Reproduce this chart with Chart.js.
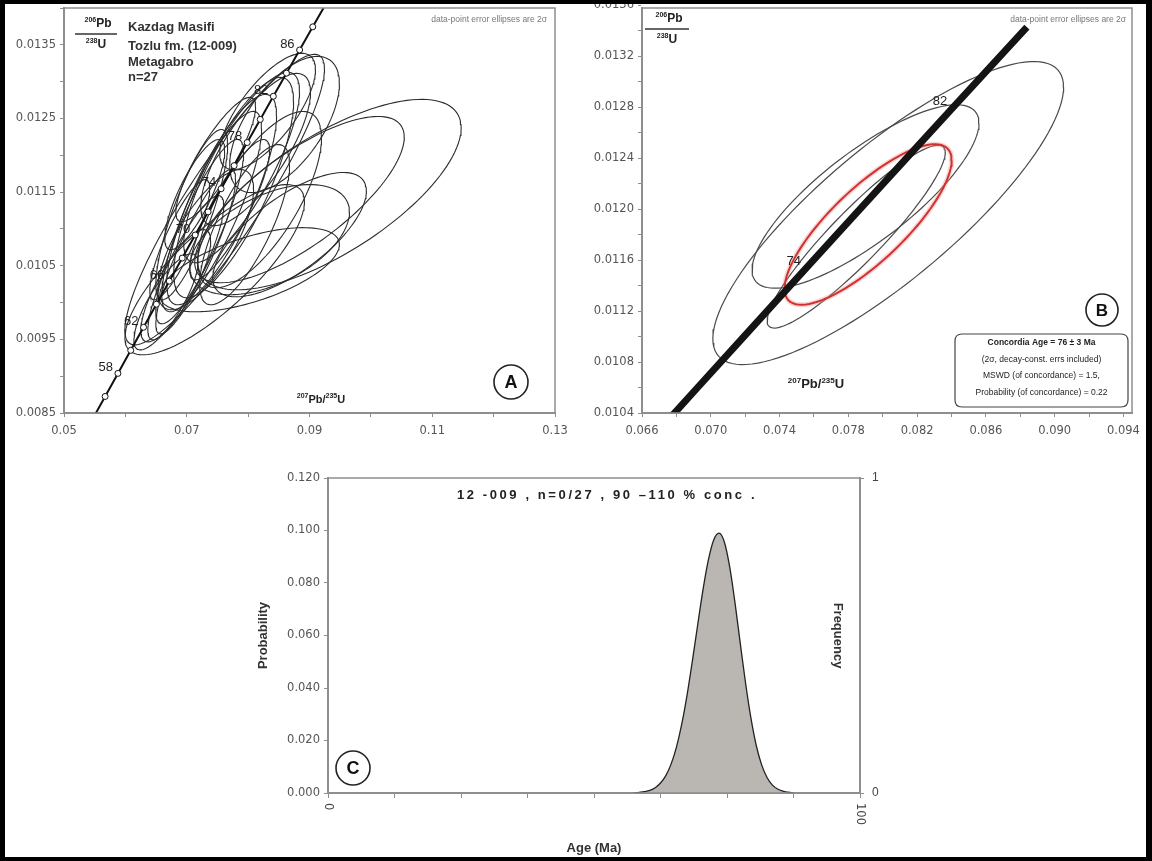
<!DOCTYPE html>
<html>
<head>
<meta charset="utf-8">
<script src="https://cdn.jsdelivr.net/npm/chart.js@4.4.1/dist/chart.umd.min.js"></script>
<style>
  html, body { margin: 0; padding: 0; background: #fff; }
  #page { position: relative; width: 1152px; height: 861px; overflow: hidden; background: #fff; }
  #page canvas { position: absolute; }
  #frame { position: absolute; left: 0; top: 0; width: 1152px; height: 861px; box-sizing: border-box;
           border-style: solid; border-color: #000; border-width: 4px 6px 4px 5px; pointer-events: none; }
</style>
</head>
<body>
<div id="page">
  <canvas id="cA" width="570" height="440" style="left:0px;top:0px;width:570px;height:440px"></canvas>
  <canvas id="cB" width="582" height="440" style="left:570px;top:0px;width:582px;height:440px"></canvas>
  <canvas id="cC" width="690" height="421" style="left:230px;top:440px;width:690px;height:421px"></canvas>
  <div id="frame"></div>
</div>
<script>
// ---- Concordia reference curve (age in Ma, 207Pb/235U, 206Pb/238U) ----
const concAge = [54, 56, 58, 60, 62, 64, 66, 68, 70, 72, 74, 76, 78, 80, 82, 84, 86, 88, 90];
const concR75 = [0.054621, 0.056700, 0.058784, 0.060871, 0.062963, 0.065058, 0.067158, 0.069262, 0.071370, 0.073483,
                 0.075600, 0.077721, 0.079846, 0.081975, 0.084108, 0.086246, 0.088387, 0.090533, 0.092683];
const concR68 = [0.0084119, 0.0087247, 0.0090377, 0.0093508, 0.0096640, 0.0099773, 0.0102907, 0.0106041, 0.0109177, 0.0112314,
                 0.0115452, 0.0118590, 0.0121730, 0.0124870, 0.0128012, 0.0131154, 0.0134298, 0.0137442, 0.0140588];
const concLabelsA = [58, 62, 66, 70, 74, 78, 82, 86];
const concLabelsB = [74, 82];

// ---- Panel A: zircon spots, 12-009 (2-sigma errors, error correlation) ----
const aR75   = [0.07211, 0.07407, 0.07146, 0.07569, 0.07764, 0.07309, 0.06984, 0.06821, 0.06659, 0.07894,
                0.08122, 0.08593, 0.09325, 0.08837, 0.08675, 0.08350, 0.08024, 0.08317, 0.07472, 0.07699,
                0.07081, 0.07618, 0.07455, 0.06886, 0.07943, 0.08187, 0.07130];
const aErr75 = [0.00715, 0.00813, 0.00650, 0.00894, 0.00976, 0.00780, 0.00618, 0.00569, 0.00520, 0.00943,
                0.00894, 0.00894, 0.02146, 0.01707, 0.01252, 0.01301, 0.01463, 0.00780, 0.00650, 0.00650,
                0.00585, 0.01626, 0.01463, 0.00488, 0.00732, 0.01008, 0.00488];
const aR68   = [0.010963, 0.011235, 0.010690, 0.011398, 0.011561, 0.010854, 0.010473, 0.010228, 0.010010, 0.011833,
                0.012078, 0.012418, 0.011466, 0.011398, 0.010922, 0.010854, 0.010446, 0.012595, 0.011942, 0.011262,
                0.011194, 0.011398, 0.010446, 0.010854, 0.011058, 0.011398, 0.011466];
const aErr68 = [0.001252, 0.001361, 0.001116, 0.001429, 0.001497, 0.000952, 0.000980, 0.000762, 0.000653, 0.001293,
                0.001034, 0.000925, 0.001293, 0.001129, 0.000844, 0.000748, 0.000571, 0.000789, 0.000844, 0.000952,
                0.001156, 0.001973, 0.001156, 0.000816, 0.001088, 0.001197, 0.000748];
const aRho   = [0.86, 0.83, 0.88, 0.80, 0.78, 0.72, 0.86, 0.80, 0.80, 0.80,
                0.75, 0.60, 0.70, 0.75, 0.70, 0.50, 0.60, 0.72, 0.85, 0.85,
                0.82, 0.90, 0.80, 0.85, 0.75, 0.70, 0.80];

// ---- Panel B: concordant spots and the concordia-age ellipse ----
const bR75   = [0.08032, 0.07900, 0.07846];
const bErr75 = [0.01020, 0.00660, 0.00518];
const bR68   = [0.011970, 0.012100, 0.011785];
const bErr68 = [0.001190, 0.000720, 0.000718];
const bRho   = [0.83, 0.80, 0.92];
const concordiaEllipse = [0.07915, 0.00486, 0.011880, 0.000630, 0.80]; // x, 2s x, y, 2s y, rho
const concordiaAgeText = ['Concordia Age = 76 \u00b1 3 Ma', '(2\u03c3, decay-const. errs included)',
                          'MSWD (of concordance) = 1.5,', 'Probability (of concordance) = 0.22'];

// ---- Panel C: relative probability of ages ----
const pdAge  = [57.5, 58.5, 59.5, 60.5, 61.5, 62.5, 63.5, 64.5, 65.5, 66.5, 67.5, 68.5, 69.5, 70.5, 71.5, 72.5,
                73.5, 74.5, 75.5, 76.5, 77.5, 78.5, 79.5, 80.5, 81.5, 82.5, 83.5, 84.5, 85.5, 86.5, 87.5];
const pdProb = [0.0000, 0.0002, 0.0005, 0.0010, 0.0020, 0.0038, 0.0066, 0.0111, 0.0175, 0.0263, 0.0374, 0.0504,
                0.0642, 0.0776, 0.0888, 0.0964, 0.0990, 0.0956, 0.0862, 0.0725, 0.0569, 0.0417, 0.0285, 0.0181,
                0.0108, 0.0060, 0.0031, 0.0015, 0.0007, 0.0003, 0.0000];

// ---- Axis ticks ----
const aXMajor = [0.05, 0.07, 0.09, 0.11, 0.13];
const aXMinor = [0.06, 0.08, 0.10, 0.12];
const aYMajor = [0.0085, 0.0095, 0.0105, 0.0115, 0.0125, 0.0135];
const aYMinor = [0.0090, 0.0100, 0.0110, 0.0120, 0.0130, 0.0140];
const bXMajor = [0.066, 0.070, 0.074, 0.078, 0.082, 0.086, 0.090, 0.094];
const bXMinor = [0.068, 0.072, 0.076, 0.080, 0.084, 0.088, 0.092];
const bYMajor = [0.0104, 0.0108, 0.0112, 0.0116, 0.0120, 0.0124, 0.0128, 0.0132, 0.0136];
const bYMinor = [0.0106, 0.0110, 0.0114, 0.0118, 0.0122, 0.0126, 0.0130, 0.0134];
const cXMajor = [0, 100];
const cXMinor = [12.5, 25, 37.5, 50, 62.5, 75, 87.5];
const cYMajor = [0, 0.02, 0.04, 0.06, 0.08, 0.10, 0.12];
const cY2Major = [0, 1];

const FONT = '"Liberation Sans", Arial, sans-serif';
const TICK_FONT = '"DejaVu Sans", "Liberation Sans", sans-serif';
const AXIS_GREY = '#8e8e8e';
const LABEL_GREY = '#555';

function isIn(v, list) { return list.some(m => Math.abs(m - v) < 1e-9); }
function tickSet(majors, minors) {
  return majors.concat(minors).sort((a, b) => a - b).map(v => ({ value: v }));
}
// outline of a 2-sigma error ellipse from the ratio errors and their correlation
function ellipsePts(cx, sx, cy, sy, rho) {
  const n = 120, k = Math.sqrt(1 - rho * rho), pts = [];
  for (let i = 0; i <= n; i++) {
    const t = 2 * Math.PI * i / n;
    pts.push({ x: cx + sx * Math.cos(t), y: cy + sy * (rho * Math.cos(t) + k * Math.sin(t)) });
  }
  return pts;
}
function axis(min, max, majors, minors, digits, fitKey, fitVal, extra) {
  return Object.assign({
    type: 'linear', min: min, max: max,
    afterBuildTicks: s => { s.ticks = tickSet(majors, minors); },
    afterFit: s => {
      s[fitKey] = fitVal;
      s.paddingLeft = 0; s.paddingRight = 0; s.paddingTop = 0; s.paddingBottom = 0;
    },
    ticks: { autoSkip: false, maxRotation: 0, minRotation: 0, color: LABEL_GREY, padding: fitKey === 'height' ? 7 : 4,
             font: { family: TICK_FONT, size: 11.5 },
             callback: v => isIn(v, majors) ? v.toFixed(digits) : '' },
    grid: { display: true, drawOnChartArea: false, drawTicks: true, tickLength: 4, color: AXIS_GREY, lineWidth: 1 },
    border: { display: true, color: AXIS_GREY, width: 2 }
  }, extra || {});
}
function richText(ctx, segs, x, y, size, align, color) {
  const fontFor = sup => 'bold ' + (sup ? Math.round(size * 0.6) : size) + 'px ' + FONT;
  const widths = segs.map(([t, sup]) => { ctx.font = fontFor(sup); return ctx.measureText(t).width; });
  const total = widths.reduce((a, b) => a + b, 0);
  let cx = align === 'center' ? x - total / 2 : (align === 'right' ? x - total : x);
  ctx.fillStyle = color; ctx.textAlign = 'left'; ctx.textBaseline = 'alphabetic';
  segs.forEach(([t, sup], i) => {
    ctx.font = fontFor(sup);
    ctx.fillText(t, cx, sup ? y - size * 0.42 : y);
    cx += widths[i];
  });
}
function circleLabel(ctx, x, y, r, letter) {
  ctx.save();
  ctx.beginPath(); ctx.arc(x, y, r, 0, 2 * Math.PI);
  ctx.fillStyle = '#fff'; ctx.fill();
  ctx.lineWidth = 1.6; ctx.strokeStyle = '#222'; ctx.stroke();
  ctx.fillStyle = '#111'; ctx.font = 'bold ' + Math.round(r * 1.05) + 'px ' + FONT;
  ctx.textAlign = 'center'; ctx.textBaseline = 'middle';
  ctx.fillText(letter, x, y + 1);
  ctx.restore();
}
function ratioLabel(ctx, x, yTop, halfLen) {
  ctx.save();
  richText(ctx, [['206', true], ['Pb', false]], x + 2, yTop, 12, 'center', '#222');
  ctx.strokeStyle = '#333'; ctx.lineWidth = 1.6;
  ctx.beginPath(); ctx.moveTo(x - halfLen, yTop + 7); ctx.lineTo(x + halfLen, yTop + 7); ctx.stroke();
  richText(ctx, [['238', true], ['U', false]], x, yTop + 21, 12, 'center', '#222');
  ctx.restore();
}
const framePlugin = {
  id: 'plotFrame',
  afterDatasetsDraw(chart) {
    const { ctx, chartArea: a } = chart;
    ctx.save(); ctx.strokeStyle = AXIS_GREY; ctx.lineWidth = 1.5;
    ctx.strokeRect(a.left, a.top, a.right - a.left, a.bottom - a.top);
    ctx.restore();
  }
};
const baseOptions = {
  responsive: false, animation: false, devicePixelRatio: 1,
  plugins: { legend: { display: false }, tooltip: { enabled: false } }
};

// ================= Panel A =================
const concPts = concAge.map((a, i) => ({ x: concR75[i], y: concR68[i] }));
const markerPts = concAge.filter(a => a >= 56 && a <= 88).map(a => { const i = concAge.indexOf(a); return { x: concR75[i], y: concR68[i] }; });
const aEllipses = aR75.map((x, i) => ellipsePts(x, aErr75[i], aR68[i], aErr68[i], aRho[i]));

new Chart(document.getElementById('cA'), {
  type: 'scatter',
  data: {
    datasets: [
      { data: markerPts, showLine: false, pointRadius: 3, pointBackgroundColor: '#fff', pointBorderColor: '#111', pointBorderWidth: 1, order: 1 },
      { data: concPts, showLine: true, borderColor: '#111', borderWidth: 2, pointRadius: 0, order: 2 }
    ].concat(aEllipses.map(e => ({ data: e, showLine: true, borderColor: '#2c2c2c', borderWidth: 1.1, pointRadius: 0, order: 5 })))
  },
  options: Object.assign({}, baseOptions, {
    layout: { padding: { top: 8, right: 15, left: 0, bottom: 0 } },
    scales: {
      x: axis(0.05, 0.13, aXMajor, aXMinor, 2, 'height', 27, { position: 'bottom' }),
      y: axis(0.0085, 0.0140, aYMajor, aYMinor, 4, 'width', 64, { position: 'left' })
    }
  }),
  plugins: [framePlugin, {
    id: 'panelA',
    afterDraw(chart) {
      const ctx = chart.ctx, xs = chart.scales.x, ys = chart.scales.y, a = chart.chartArea;
      ctx.save();
      // age labels along concordia
      ctx.font = '13px ' + FONT; ctx.fillStyle = '#1e1e1e'; ctx.textAlign = 'right'; ctx.textBaseline = 'middle';
      concLabelsA.forEach(age => {
        const i = concAge.indexOf(age);
        ctx.fillText(String(age), xs.getPixelForValue(concR75[i]) - 5, ys.getPixelForValue(concR68[i]) - 6);
      });
      ratioLabel(ctx, 96, 27, 21);
      ctx.font = 'bold 13px ' + FONT; ctx.fillStyle = '#333'; ctx.textAlign = 'left'; ctx.textBaseline = 'middle';
      ['Kazdag Masifi', 'Tozlu fm. (12-009)', 'Metagabro', 'n=27'].forEach((t, k) => ctx.fillText(t, 128, [27, 46, 62, 77][k]));
      ctx.font = '8.5px ' + FONT; ctx.fillStyle = '#777'; ctx.textAlign = 'right';
      ctx.fillText('data-point error ellipses are 2\u03c3', a.right - 8, a.top + 12);
      richText(ctx, [['207', true], ['Pb/', false], ['235', true], ['U', false]], 321, 403, 11, 'center', '#222');
      circleLabel(ctx, 511, 382, 17, 'A');
      ctx.restore();
    }
  }]
});

// ================= Panel B =================
const bEllipses = bR75.map((x, i) => ellipsePts(x, bErr75[i], bR68[i], bErr68[i], bRho[i]));
const redEllipse = ellipsePts(concordiaEllipse[0], concordiaEllipse[1], concordiaEllipse[2], concordiaEllipse[3], concordiaEllipse[4]);

new Chart(document.getElementById('cB'), {
  type: 'scatter',
  data: {
    datasets: [
      { data: concPts.filter((p, i) => concAge[i] <= 86), showLine: true, borderColor: '#141414', borderWidth: 7, pointRadius: 0, order: 1 },
      { data: redEllipse, showLine: true, borderColor: '#d3312f', borderWidth: 2, pointRadius: 0, order: 2 },
      { data: redEllipse, showLine: true, borderColor: 'rgba(235,140,140,0.35)', borderWidth: 5, pointRadius: 0, order: 3 }
    ].concat(bEllipses.map(e => ({ data: e, showLine: true, borderColor: '#4a4a4a', borderWidth: 1.2, pointRadius: 0, order: 5 })))
  },
  options: Object.assign({}, baseOptions, {
    layout: { padding: { top: 8, right: 20, left: 0, bottom: 0 } },
    scales: {
      x: axis(0.066, 0.0945, bXMajor, bXMinor, 3, 'height', 27, { position: 'bottom' }),
      y: axis(0.0104, 0.01358, bYMajor, bYMinor, 4, 'width', 72, { position: 'left' })
    }
  }),
  plugins: [framePlugin, {
    id: 'panelB',
    afterDraw(chart) {
      const ctx = chart.ctx, xs = chart.scales.x, ys = chart.scales.y, a = chart.chartArea;
      ctx.save();
      ctx.font = '13px ' + FONT; ctx.fillStyle = '#222'; ctx.textAlign = 'right'; ctx.textBaseline = 'middle';
      concLabelsB.forEach(age => {
        const i = concAge.indexOf(age);
        ctx.fillText(String(age), xs.getPixelForValue(concR75[i]) - 6, ys.getPixelForValue(concR68[i]) - 6);
      });
      ratioLabel(ctx, 97, 22, 22);
      ctx.font = '8.5px ' + FONT; ctx.fillStyle = '#777'; ctx.textAlign = 'right'; ctx.textBaseline = 'middle';
      ctx.fillText('data-point error ellipses are 2\u03c3', a.right - 6, a.top + 12);
      richText(ctx, [['207', true], ['Pb/', false], ['235', true], ['U', false]], 246, 388, 13, 'center', '#222');
      circleLabel(ctx, 532, 310, 16, 'B');
      // result box
      const bx = 385, by = 334, bw = 173, bh = 73, r = 7;
      ctx.beginPath();
      ctx.moveTo(bx + r, by); ctx.lineTo(bx + bw - r, by); ctx.quadraticCurveTo(bx + bw, by, bx + bw, by + r);
      ctx.lineTo(bx + bw, by + bh - r); ctx.quadraticCurveTo(bx + bw, by + bh, bx + bw - r, by + bh);
      ctx.lineTo(bx + r, by + bh); ctx.quadraticCurveTo(bx, by + bh, bx, by + bh - r);
      ctx.lineTo(bx, by + r); ctx.quadraticCurveTo(bx, by, bx + r, by); ctx.closePath();
      ctx.fillStyle = '#fff'; ctx.fill(); ctx.strokeStyle = '#444'; ctx.lineWidth = 1.2; ctx.stroke();
      ctx.textAlign = 'center'; ctx.fillStyle = '#222';
      concordiaAgeText.forEach((t, k) => {
        ctx.font = (k === 0 ? 'bold ' : '') + '8.5px ' + FONT;
        ctx.fillText(t, bx + bw / 2, by + 11 + k * 16.5);
      });
      ctx.restore();
    }
  }]
});

// ================= Panel C =================
const pdPts = pdAge.map((a, i) => ({ x: a, y: pdProb[i] }));

new Chart(document.getElementById('cC'), {
  type: 'scatter',
  data: {
    datasets: [
      { data: pdPts, showLine: true, fill: 'origin', backgroundColor: '#bab6b2', borderColor: '#222', borderWidth: 1.3,
        pointRadius: 0, cubicInterpolationMode: 'monotone', yAxisID: 'y' }
    ]
  },
  options: Object.assign({}, baseOptions, {
    layout: { padding: { top: 38, right: 0, left: 0, bottom: 0 } },
    scales: {
      x: axis(0, 100, cXMajor, cXMinor, 0, 'height', 68, {
        position: 'bottom',
        ticks: { display: false, autoSkip: false },
        grid: { display: true, drawOnChartArea: false, drawTicks: true, tickLength: 5, color: AXIS_GREY, lineWidth: 1 }
      }),
      y: axis(0, 0.12, cYMajor, [], 3, 'width', 98, { position: 'left' }),
      y2: axis(0, 1, cY2Major, [], 0, 'width', 60, {
        position: 'right',
        ticks: { autoSkip: false, color: '#444', padding: 8, font: { family: FONT, size: 12 }, callback: v => String(v) }
      })
    }
  }),
  plugins: [framePlugin, {
    id: 'panelC',
    afterDraw(chart) {
      const ctx = chart.ctx, xs = chart.scales.x, a = chart.chartArea;
      ctx.save();
      ctx.fillStyle = '#444'; ctx.font = '11.5px ' + TICK_FONT; ctx.textBaseline = 'middle'; ctx.textAlign = 'left';
      cXMajor.forEach(v => {
        ctx.save();
        ctx.translate(xs.getPixelForValue(v), a.bottom + 10);
        ctx.rotate(Math.PI / 2);
        ctx.fillText(String(v), 0, 0);
        ctx.restore();
      });
      ctx.font = 'bold 13px ' + FONT; ctx.fillStyle = '#222'; ctx.textAlign = 'center';
      ctx.letterSpacing = '2.6px';
      ctx.fillText('12 -009 , n=0/27 , 90 \u2013110 % conc .', (a.left + a.right) / 2 + 13, a.top + 17);
      ctx.letterSpacing = '0px';
      ctx.font = 'bold 13px ' + FONT; ctx.fillStyle = '#333';
      ctx.save(); ctx.translate(33, (a.top + a.bottom) / 2); ctx.rotate(-Math.PI / 2); ctx.fillText('Probability', 0, 0); ctx.restore();
      ctx.save(); ctx.translate(a.right - 22, (a.top + a.bottom) / 2); ctx.rotate(Math.PI / 2); ctx.fillText('Frequency', 0, 0); ctx.restore();
      ctx.fillText('Age (Ma)', (a.left + a.right) / 2, 408);
      circleLabel(ctx, a.left + 25, a.bottom - 25, 17, 'C');
      ctx.restore();
    }
  }]
});
</script>
</body>
</html>
